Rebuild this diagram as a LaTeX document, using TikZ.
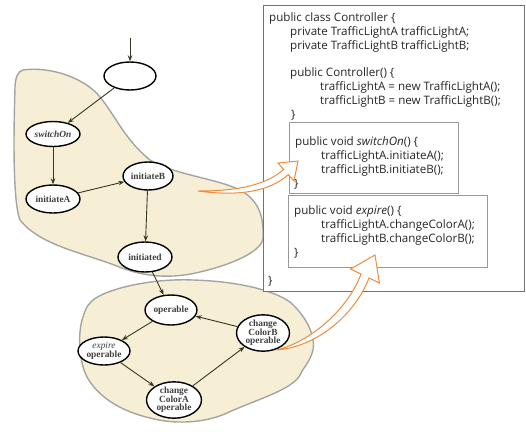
\documentclass[tikz,border=0pt]{standalone}
\usepackage{fontspec}
\setmainfont{Liberation Serif}
\newfontfamily\codefont{Open Sans}
\usetikzlibrary{arrows.meta,shapes.geometric}
\definecolor{blobfill}{RGB}{246,239,214}
\definecolor{blobline}{RGB}{165,165,160}
\definecolor{orangeline}{RGB}{238,140,62}
\definecolor{edgecol}{RGB}{55,55,40}
\tikzset{
  st/.style={ellipse, draw=black, line width=1.4pt, fill=white, inner sep=0pt,
    font=\fontsize{9.4}{8.6}\selectfont\bfseries, align=center, text=black!75},
  edge/.style={-{Stealth[length=6pt,width=4.5pt]}, line width=0.9pt, draw=edgecol},
  blob/.style={fill=blobfill, draw=blobline, line width=1.4pt},
  codebox/.style={draw=black!55, line width=1pt, fill=white},
  innerbox/.style={draw=black!40, line width=0.9pt, fill=white},
  code/.style={anchor=base west, inner sep=0pt, text=black!85,
    font=\codefont\fontsize{11.6}{13}\selectfont},
  bigarrow/.style={draw=orangeline, line width=1pt, fill=white, line join=miter},
}
\begin{document}
\begin{tikzpicture}[x=1pt,y=-1pt]
\useasboundingbox (0,0) rectangle (526,431);
% blobs
\draw[blob] (23,70) .. controls (50,66) and (85,78) .. (100,97)
  .. controls (115,115) and (125,140) .. (150,160)
  .. controls (175,175) and (215,178) .. (240,190)
  .. controls (258,200) and (264,215) .. (263,238)
  .. controls (262,252) and (230,265) .. (200,272)
  .. controls (180,277) and (150,280) .. (117,266)
  .. controls (80,252) and (40,245) .. (20,220)
  .. controls (12,200) and (14,120) .. (15,88)
  .. controls (15,78) and (18,71) .. (23,70) -- cycle;
\draw[blob] (90,303) .. controls (100,290) and (150,278) .. (193,280)
  .. controls (230,281) and (270,288) .. (290,302)
  .. controls (305,315) and (316,335) .. (313,350)
  .. controls (310,362) and (303,368) .. (300,375)
  .. controls (292,390) and (255,400) .. (227,413)
  .. controls (210,421) and (180,426) .. (150,418)
  .. controls (125,412) and (100,400) .. (87,377)
  .. controls (78,360) and (78,330) .. (83,317)
  .. controls (85,310) and (87,306) .. (90,303) -- cycle;
% code boxes
\draw[codebox] (263,5) rectangle (524,291);
\draw[innerbox] (289,122) rectangle (458,193);
\draw[innerbox] (288,195) rectangle (487,267);
\node[code] (c1) at (269,21) {public class Controller \{};
\node[code] (c2) at (290,35) {private TrafficLightA trafficLightA;};
\node[code] (c3) at (290,49) {private TrafficLightB trafficLightB;};
\node[code] (c5) at (290,76) {public Controller() \{};
\node[code] (c6) at (320,90) {trafficLightA = new TrafficLightA();};
\node[code] (c7) at (320,104) {trafficLightB = new TrafficLightB();};
\node[code] (c8) at (291,118) {\}};
\node[code] (c9) at (295,145) {public void \textit{switchOn}() \{};
\node[code] (c10) at (321,159) {trafficLightA.initiateA();};
\node[code] (c11) at (321,173) {trafficLightB.initiateB();};
\node[code] (c12) at (294,187) {\}};
\node[code] (c13) at (294,214) {public void \textit{expire}() \{};
\node[code] (c14) at (321,228) {trafficLightA.changeColorA();};
\node[code] (c15) at (321,242) {trafficLightB.changeColorB();};
\node[code] (c16) at (294,256) {\}};
\node[code] (c17) at (268,284) {\}};
% orange hollow arrows
\draw[bigarrow] (198,191) .. controls (235,191) and (265,186) .. (283.7,169.4)
  -- (278,163) -- (298,161) -- (294,181) -- (288.3,174.6)
  .. controls (268,193) and (235,196) .. (198,191) -- cycle;
\draw[bigarrow] (277,350) .. controls (315,340) and (350,305) .. (361,274)
  -- (350.6,269) -- (375,255) -- (379.4,283) -- (369,278)
  .. controls (356,312) and (320,346) .. (277,350) -- cycle;
% state nodes
\coordinate (start) at (130,38);
\node[st, minimum width=52pt, minimum height=28pt] (top) at (130,76) {};
\node[st, minimum width=54pt, minimum height=25pt] (sw) at (53,134) {\textit{switchOn}};
\node[st, minimum width=54pt, minimum height=28pt] (ia) at (53,199) {initiateA};
\node[st, minimum width=50pt, minimum height=28pt] (ib) at (148,176) {initiateB};
\node[st, minimum width=54pt, minimum height=30pt] (id) at (145,257) {initiated};
\node[st, minimum width=52pt, minimum height=30pt] (op) at (171,310) {operable};
\node[st, minimum width=52pt, minimum height=28pt] (ex) at (104,351) {\mdseries\textit{expire}\\operable};
\node[st, minimum width=55pt, minimum height=30pt] (ca) at (174,400) {change\\ColorA\\operable};
\node[st, minimum width=53pt, minimum height=31pt] (cb) at (263,333) {change\\ColorB\\operable};
\draw[edge] (start) -- (top);
\draw[edge] (top) -- (sw);
\draw[edge] (sw) -- (ia);
\draw[edge] (ia) -- (ib);
\draw[edge] (ib) -- (id);
\draw[edge] (id) -- (op);
\draw[edge] (op) -- (ex);
\draw[edge] (ex) -- (ca);
\draw[edge] (ca) -- (cb);
\draw[edge] (cb) -- (op);
\end{tikzpicture}
\end{document}
